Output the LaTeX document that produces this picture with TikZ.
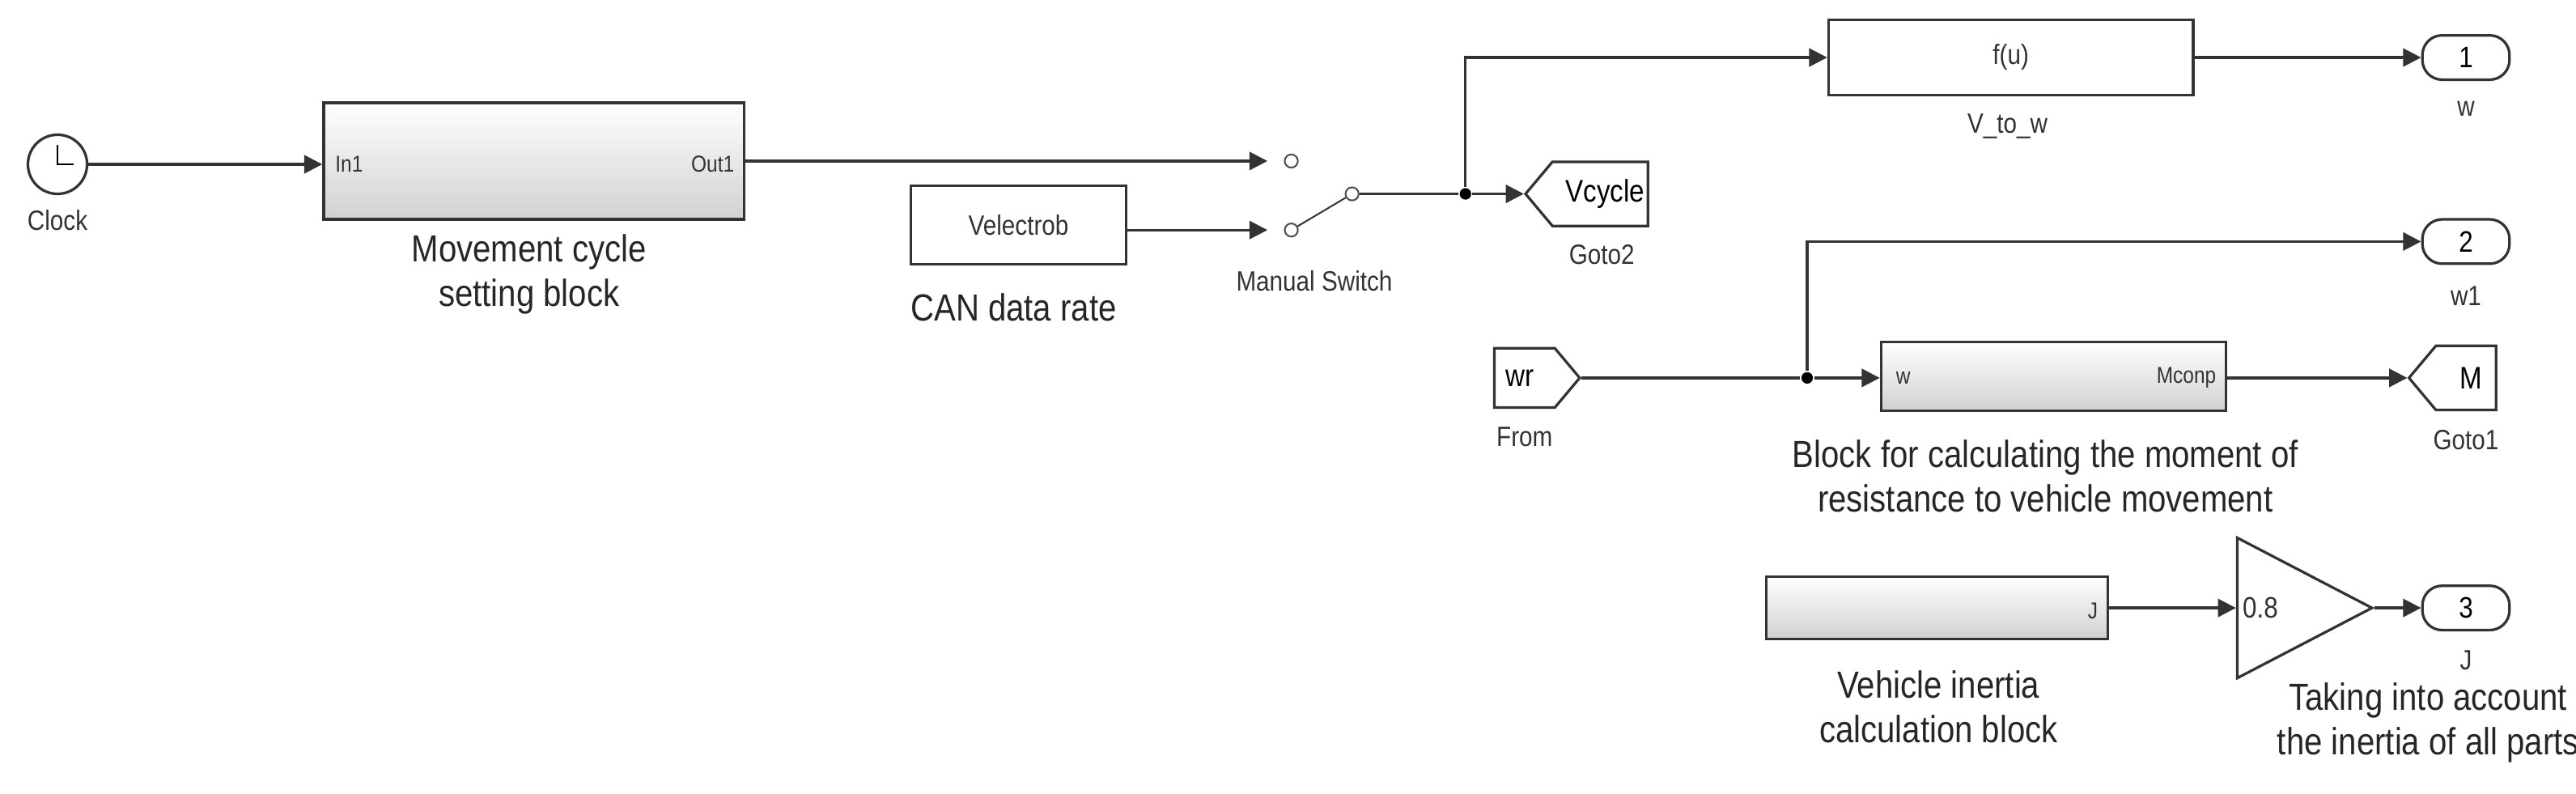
\documentclass[tikz,border=0pt]{standalone}
\usepackage{fontspec}
\setmainfont{Liberation Sans}[FakeStretch=0.86]
\usetikzlibrary{shapes.geometric,shapes.symbols,arrows.meta,calc}
\begin{document}
\begin{tikzpicture}[x=1pt,y=-1pt,
  line width=1.6pt,
  wire/.style={draw=black!80,-{Triangle[length=11pt,width=11pt]}},
  plain/.style={draw=black!80},
  blk/.style={draw=black!80,rectangle,top color=white,bottom color=black!18,inner sep=0pt},
  box/.style={draw=black!80,rectangle,fill=white,inner sep=0pt},
  port/.style={draw=black!80,rectangle,rounded corners=12pt,minimum width=53pt,minimum height=27pt,inner sep=0pt,font=\fontsize{18}{18}\selectfont},
  gotoL/.style={draw=black!80,signal,signal to=west,signal pointer angle=100,minimum width=53pt,minimum height=39pt,inner sep=2pt,fill=white},
  big/.style={font=\fontsize{23}{27}\selectfont,align=center,text=black!85},
  sml/.style={font=\fontsize{17}{18}\selectfont,text=black!80},
  tiny/.style={font=\fontsize{14}{14}\selectfont,text=black!80},
  dot/.style={circle,fill=black,inner sep=0pt,minimum size=7pt},
  cont/.style={circle,draw=black!70,line width=1pt,inner sep=0pt,minimum size=8pt}
]
\useasboundingbox (0,0) rectangle (1568,483);
% Clock
\node[circle,draw=black!80,minimum size=36pt,inner sep=0pt,fill=white] (clk) at (35,100) {};
\draw[line width=1.2pt] (35,88) -- (35,100) -- (45,100);
\node[sml] (clkl) at (35,134) {Clock};
% Movement block
\node[blk,minimum width=256pt,minimum height=71pt] (mov) at (325,98) {};
\node[tiny,anchor=west] (in1) at (200,100) {In1};
\node[tiny,anchor=east] (out1) at (451,100) {Out1};
\node[big] (movl) at (322,167) {Movement cycle\\setting block};
\draw[wire] (clk) -- (mov.west |- clk);
% Velectrob
\node[box,minimum width=131pt,minimum height=48pt,sml] (vel) at (620,137) {Velectrob};
\node[big] (can) at (617,187) {CAN data rate};
% Switch
\node[cont] (c1) at (786,98) {};
\node[cont] (c2) at (786,140) {};
\node[cont] (c3) at (823,118) {};
\node[sml] (swl) at (800,171) {Manual Switch};
\draw[wire] (mov.east |- c1) -- ($(c1.west)+(-10,0)$);
\draw[wire] (vel.east |- c2) -- ($(c2.west)+(-10,0)$);
\draw[plain,line width=1pt] (c2) -- (c3);
% Goto2
\node[gotoL,font=\fontsize{19}{19}\selectfont] (g2) at (974,118) {\hspace*{6pt}Vcycle};
\node[sml] (g2l) at (975,155) {Goto2};
\node[dot] (j1) at (892,118) {};
\draw[plain] (c3) -- (j1);
\draw[wire] (j1) -- (g2.west);
% f(u)
\node[box,minimum width=222pt,minimum height=46pt,sml] (fu) at (1224,35) {f(u)};
\node[sml] (ful) at (1222,77) {V\_to\_w};
\draw[wire] (j1) -- (892,35) -- (fu.west);
\node[port] (p1) at (1501,35) {1};
\node[sml] (p1l) at (1501,66) {w};
\draw[wire] (fu) -- (p1);
% From
\node[draw=black!80,signal,signal to=east,signal pointer angle=100,minimum width=52pt,minimum height=36pt,inner sep=2pt,fill=white,font=\fontsize{19}{19}\selectfont] (fr) at (928,230) {wr\hspace*{6pt}};
\node[sml] (frl) at (928,266) {From};
\node[dot] (j2) at (1100,230) {};
\draw[plain] (fr.east) -- (j2);
\node[blk,minimum width=210pt,minimum height=42pt] (res) at (1250,229) {};
\node[tiny,anchor=west] (wl) at (1150,230) {w};
\node[tiny,anchor=east] (mc) at (1353,230) {Mconp};
\draw[wire] (j2) -- (res.west |- j2);
\node[port] (p2) at (1501,147) {2};
\node[sml] (p2l) at (1501,180) {w1};
\draw[wire] (j2) -- (1100,147) -- (p2);
\node[gotoL,font=\fontsize{19}{19}\selectfont] (g1) at (1501,230) {\hspace*{6pt}M};
\node[sml] (g1l) at (1501,268) {Goto1};
\draw[wire] (res.east |- g1) -- (g1.west);
\node[big] (resl) at (1245,290) {Block for calculating the moment of\\resistance to vehicle movement};
% Inertia
\node[blk,minimum width=208pt,minimum height=38pt] (vin) at (1179,370) {};
\node[tiny,anchor=east] (jl) at (1281,372) {J};
\node[big] (vinl) at (1180,430) {Vehicle inertia\\calculation block};
\node[draw=black!80,isosceles triangle,isosceles triangle apex angle=55,minimum height=82pt,inner sep=0pt,fill=white,anchor=west] (gain) at (1361,370) {};
\node[anchor=west,font=\fontsize{18}{18}\selectfont,text=black!80] (gv) at (1361,370) {0.8};
\node[port] (p3) at (1501,370) {3};
\node[sml] (p3l) at (1501,402) {J};
\draw[wire] (vin.east) -- (gain.west |- vin.east);
\draw[wire] (gain.east) -- (p3);
\node[big] (tk) at (1478,440) {Taking into account\\the inertia of all parts};
\end{tikzpicture}
\end{document}
